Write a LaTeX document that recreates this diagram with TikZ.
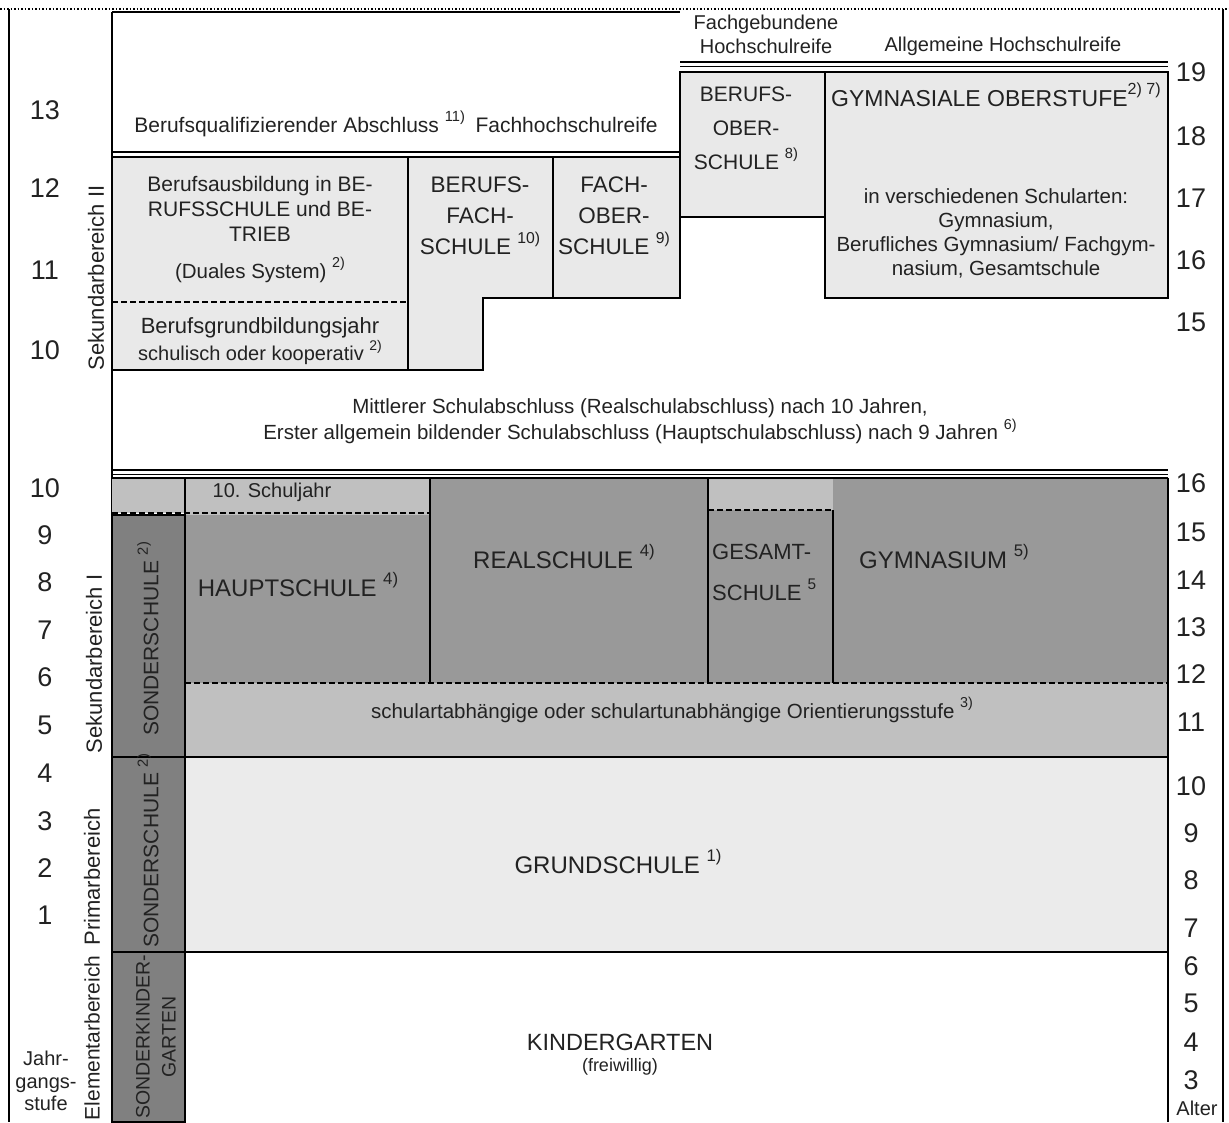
\documentclass[tikz,border=0pt]{standalone}
\usepackage{fontspec}
\setmainfont{Liberation Sans}
\definecolor{txt}{HTML}{222222}
\definecolor{secii}{HTML}{E9E9E9}
\definecolor{strip}{HTML}{C0C0C0}
\definecolor{mid}{HTML}{999999}
\definecolor{dark}{HTML}{808080}
\definecolor{prim}{HTML}{EBEBEB}
\newcommand{\fnm}[1]{\raisebox{0.5em}{\scalebox{0.7}{#1}}}
\begin{document}
\begin{tikzpicture}[x=1pt,y=-1pt,
  lbl/.style={font=\fontsize{21}{25}\selectfont, inner sep=0pt, align=center, text=txt},
  big/.style={font=\fontsize{24}{34}\selectfont, inner sep=0pt, align=center, text=txt},
  num/.style={font=\fontsize{27}{30}\selectfont, inner sep=0pt, text=txt},
  side/.style={font=\fontsize{22}{26}\selectfont, inner sep=0pt, rotate=90, text=txt},
  heavy/.style={line width=2.8pt},
  med/.style={line width=2pt},
  thin/.style={line width=1.3pt},
  dashline/.style={line width=2pt, dash pattern=on 6pt off 3pt}]
\useasboundingbox (0,0) rectangle (1229,1122);
% frame
\draw[line width=1.5pt, dotted] (0,9) -- (1229,9);
\draw[heavy] (9,9) -- (9,1122);
\draw[heavy] (1223,9) -- (1223,1122);
\draw[heavy] (112,12) -- (112,1122);
\draw[heavy] (112,12) -- (680,12);
% ---------- Sekundarbereich II ----------
\filldraw[fill=secii, heavy] (112,157) rectangle (408,370);
\draw[dashline] (112,302) -- (408,302);
\filldraw[fill=secii, heavy] (408,157) -- (553,157) -- (553,298) -- (483,298) -- (483,370) -- (408,370) -- cycle;
\filldraw[fill=secii, heavy] (553,157) rectangle (680,298);
\filldraw[fill=secii, heavy] (680,72) rectangle (825,217);
\filldraw[fill=secii, heavy] (825,72) rectangle (1168,298);
\draw[heavy] (112,152) -- (680,152);
\draw[heavy] (680,62) -- (1168,62);
\draw[thin] (680,66.5) -- (1168,66.5);
% ---------- lower part fills ----------
\fill[strip] (112,478) rectangle (185,513);
\fill[strip] (185,478) rectangle (430,515);
\fill[mid] (185,515) rectangle (430,683);
\fill[mid] (430,478) rectangle (708,683);
\fill[strip] (708,478) rectangle (833,510);
\fill[mid] (708,510) rectangle (833,683);
\fill[mid] (833,478) rectangle (1168,683);
\fill[strip] (185,683) rectangle (1168,757);
\fill[prim] (185,757) rectangle (1168,952);
\filldraw[fill=dark, heavy] (112,515) rectangle (185,757);
\filldraw[fill=dark, heavy] (112,757) rectangle (185,952);
\filldraw[fill=dark, heavy] (112,952) rectangle (185,1122);
% lower part lines
\draw[heavy] (112,470) -- (1168,470);
\draw[thin] (112,474.5) -- (1168,474.5);
\draw[heavy] (112,478) -- (1168,478);
\draw[med] (1168,478) -- (1168,1122);
\draw[thin] (185,478) -- (185,515);
\draw[heavy] (430,478) -- (430,683);
\draw[thin] (708,478) -- (708,683);
\draw[heavy] (833,510) -- (833,683);
\draw[dashline] (112,513) -- (430,513);
\draw[dashline] (708,510) -- (833,510);
\draw[dashline] (185,683) -- (1168,683);
\draw[thin] (185,757) -- (1168,757);
\draw[heavy] (185,952) -- (1168,952);
% ---------- texts: upper ----------
\node[lbl] (bqa) at (396,124) {Berufsqualifizierender Abschluss \fnm{11)}\enspace Fachhochschulreife};
\node[lbl, font=\fontsize{20}{24}\selectfont] (fgh) at (766,34) {Fachgebundene\\Hochschulreife};
\node[lbl, font=\fontsize{20}{24}\selectfont] (agh) at (1003,46) {Allgemeine Hochschulreife};
\node[big, font=\fontsize{21}{34}\selectfont] (bos) at (746,128) {BERUFS-\\OBER-\\SCHULE \fnm{8)}};
\node[big, font=\fontsize{23}{26}\selectfont] (gos) at (996,95) {GYMNASIALE OBERSTUFE\fnm{2) 7)}};
\node[lbl, font=\fontsize{20.5}{24}\selectfont] (gosd) at (996,233) {in verschiedenen Schularten:\\Gymnasium,\\Berufliches Gymnasium/ Fachgym-\\nasium, Gesamtschule};
\node[lbl] (ba) at (260,209) {Berufsausbildung in BE-\\RUFSSCHULE und BE-\\TRIEB};
\node[lbl, font=\fontsize{20.5}{24}\selectfont] (ds) at (260,270) {(Duales System) \fnm{2)}};
\node[lbl, font=\fontsize{22}{27}\selectfont] (bgj) at (260,341) {Berufsgrundbildungsjahr\\{\fontsize{20}{22}\selectfont schulisch oder kooperativ \fnm{2)}}};
\node[big, font=\fontsize{22.5}{31}\selectfont] (bfs) at (480,216) {BERUFS-\\FACH-\\SCHULE \fnm{10)}};
\node[big, font=\fontsize{22.5}{31}\selectfont] (fos) at (614,216) {FACH-\\OBER-\\SCHULE \fnm{9)}};
\node[lbl, font=\fontsize{20.5}{26}\selectfont] (msa) at (640,421) {Mittlerer Schulabschluss (Realschulabschluss) nach 10 Jahren,\\Erster allgemein bildender Schulabschluss (Hauptschulabschluss) nach 9 Jahren \fnm{6)}};
% ---------- texts: lower ----------
\node[lbl, font=\fontsize{20}{22}\selectfont] (sj) at (272,492) {10. Schuljahr};
\node[big] (hs) at (298,585) {HAUPTSCHULE \fnm{4)}};
\node[big] (rs) at (564,557) {REALSCHULE \fnm{4)}};
\node[big, font=\fontsize{22}{26}\selectfont, anchor=west] (ges1) at (712,552) {GESAMT-};
\node[big, font=\fontsize{22}{26}\selectfont, anchor=west] (ges2) at (712,590) {SCHULE \fnm{5}};
\node[big] (gym) at (944,557) {GYMNASIUM \fnm{5)}};
\node[lbl, font=\fontsize{20.5}{22}\selectfont] (ori) at (672,710) {schulartabhängige oder schulartunabhängige Orientierungsstufe \fnm{3)}};
\node[big] (gs) at (618,862) {GRUNDSCHULE \fnm{1)}};
\node[big, font=\fontsize{23.5}{26}\selectfont] (kg) at (620,1042) {KINDERGARTEN};
\node[lbl, font=\fontsize{18}{20}\selectfont] (frw) at (620,1067) {(freiwillig)};
\node[side, font=\fontsize{21}{26}\selectfont] (so1) at (148,639) {SONDERSCHULE \fnm{2)}};
\node[side, font=\fontsize{21}{26}\selectfont] (so2) at (148,851) {SONDERSCHULE \fnm{2)}};
\node[side, font=\fontsize{19.5}{26}\selectfont, align=center] (skg) at (156,1037) {SONDERKINDER-\\GARTEN};
% side labels
\node[side] (sb2) at (96,278) {Sekundarbereich II};
\node[side] (sb1) at (94,664) {Sekundarbereich I};
\node[side] (pb) at (92,877) {Primarbereich};
\node[side, font=\fontsize{21}{26}\selectfont] (eb) at (92,1038) {Elementarbereich};
\node[lbl, font=\fontsize{20}{22.5}\selectfont] (jgs) at (46,1081) {Jahr-\\gangs-\\stufe};
% grade numbers left
\foreach \n/\y in {13/110,12/188,11/270,10/350,10/488,9/535,8/582,7/630,6/677,5/725,4/773,3/821,2/868,1/915}
  \node[num] (gl\n-\y) at (45,\y) {\n};
% age numbers right
\foreach \n/\y in {19/72,18/136,17/198,16/260,15/322,16/483,15/532,14/580,13/627,12/674,11/722,10/786,9/833,8/880,7/928,6/966,5/1003,4/1042,3/1080}
  \node[num] (ar\n-\y) at (1191,\y) {\n};
\node[lbl, font=\fontsize{20}{22}\selectfont] (alt) at (1197,1108) {Alter};
\end{tikzpicture}
\end{document}
